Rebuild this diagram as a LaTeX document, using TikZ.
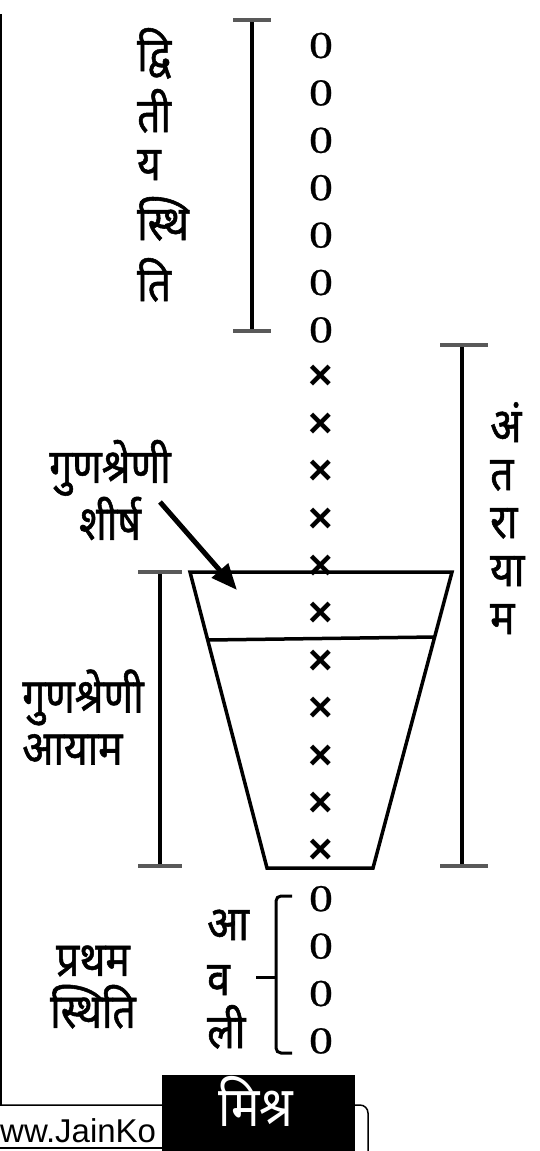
\documentclass[tikz,border=0pt]{standalone}
\usepackage{fontspec}
\setmainfont{Liberation Serif}
\newfontfamily\hindi[Script=Devanagari, FakeStretch=0.85, FakeBold=1.1]{Noto Sans}
\newfontfamily\hinditab[Script=Devanagari, FakeStretch=0.85]{Noto Sans}
\newfontfamily\websans{Liberation Sans}
\newfontfamily\zerofont[FakeStretch=1.25, FakeBold=0.6]{Liberation Serif}
\usetikzlibrary{positioning,arrows.meta}

\begin{document}
\begin{tikzpicture}[x=1pt, y=-1pt, node distance=47.4pt,
  hlabel/.style={font=\hindi\fontsize{48}{52}\selectfont, inner sep=0pt},
  zeromark/.style={font=\zerofont\fontsize{38}{40}\selectfont, inner sep=0pt, text height=26pt, text depth=0pt},
  crossmark/.style={font=\websans\bfseries\fontsize{42}{46}\selectfont, inner sep=0pt, text height=26pt, text depth=0pt},
  bar/.style={line width=4pt},
  barcap/.style={line width=4pt, draw=black!65},
  cup/.style={line width=3.5pt, line join=miter}]
  \useasboundingbox (0,0) rectangle (540,1151);

  % column of samay
  \node[zeromark] (z1) at (321,45) {0};
  \node[zeromark, below of=z1] (z2) {0};
  \node[zeromark, below of=z2] (z3) {0};
  \node[zeromark, below of=z3] (z4) {0};
  \node[zeromark, below of=z4] (z5) {0};
  \node[zeromark, below of=z5] (z6) {0};
  \node[zeromark, below of=z6] (z7) {0};
  \node[crossmark, below of=z7] (x1) {×};
  \node[crossmark, below of=x1] (x2) {×};
  \node[crossmark, below of=x2] (x3) {×};
  \node[crossmark, below of=x3] (x4) {×};
  \node[crossmark, below of=x4] (x5) {×};
  \node[crossmark, below of=x5] (x6) {×};
  \node[crossmark, below of=x6] (x7) {×};
  \node[crossmark, below of=x7] (x8) {×};
  \node[crossmark, below of=x8] (x9) {×};
  \node[crossmark, below of=x9] (x10) {×};
  \node[crossmark, below of=x10] (x11) {×};
  \node[zeromark, below of=x11] (p1) {0};
  \node[zeromark, below of=p1] (p2) {0};
  \node[zeromark, below of=p2] (p3) {0};
  \node[zeromark, below of=p3] (p4) {0};

  % dvitiya sthiti
  \draw[bar] (252,20) -- (252,331);
  \draw[barcap] (233,20) -- (271,20) (233,331) -- (271,331);
  \node[hlabel, anchor=base west] (ds1) at (137,71) {द्वि};
  \node[hlabel, anchor=base west] (ds2) at (137,132) {ती};
  \node[hlabel, anchor=base west] (ds3) at (137,180) {य};
  \node[hlabel, anchor=base west] (ds4) at (137,240) {स्थि};
  \node[hlabel, anchor=base west] (ds5) at (137,301) {ति};

  % antarayam
  \draw[bar] (462,345) -- (462,866);
  \draw[barcap] (440,345) -- (488,345) (440,866) -- (488,866);
  \node[hlabel, anchor=base west] (an1) at (490,442) {अं};
  \node[hlabel, anchor=base west] (an2) at (490,490) {त};
  \node[hlabel, anchor=base west] (an3) at (490,538) {रा};
  \node[hlabel, anchor=base west] (an4) at (490,586) {या};
  \node[hlabel, anchor=base west] (an5) at (490,634) {म};

  % gunashreni
  \draw[cup] (190,572) -- (452,572) -- (373,868) -- (267,868) -- cycle;
  \draw[cup] (208,640) -- (435,637);
  \draw[bar] (160,572) -- (160,866);
  \draw[barcap] (138,572) -- (182,572) (138,866) -- (182,866);
  \node[hlabel, align=center] (shirsh) at (110,490) {गुणश्रेणी\\शीर्ष};
  \node[hlabel, align=left] (aayam) at (83,717) {गुणश्रेणी\\आयाम};
  \coordinate (arrowtail) at (160,502);
  \coordinate (arrowtip) at (237,590);
  \draw[line width=5pt, -{Triangle[length=26pt,width=21pt]}] (arrowtail) -- (arrowtip);

  % pratham sthiti
  \draw[line width=3pt, rounded corners=5pt] (292,896) -- (276,896) -- (276,1053) -- (292,1053);
  \draw[line width=3pt] (256,977) -- (276,977);
  \node[hlabel, anchor=base west] (av1) at (207,940) {आ};
  \node[hlabel, anchor=base west] (av2) at (207,995) {व};
  \node[hlabel, anchor=base west] (av3) at (207,1048) {ली};
  \node[hlabel, align=center] (pratham) at (93,987) {प्रथम\\स्थिति};

  % footer
  \draw[line width=1.5pt] (1,14) -- (1,1105);
  \draw[line width=1.5pt, rounded corners=8pt] (0,1105) -- (368,1105) -- (368,1160);
  \draw[line width=1.5pt] (0,1148) -- (200,1148);
  \node[font=\websans\fontsize{33}{36}\selectfont, anchor=base west, inner sep=0pt] (web) at (0,1142) {ww.JainKo};
  \fill[black] (162,1075) rectangle (355,1160);
  \node[font=\hinditab\fontsize{56}{60}\selectfont, inner sep=0pt, text=white, anchor=base] (mishra) at (256,1126) {मिश्र};
\end{tikzpicture}
\end{document}
